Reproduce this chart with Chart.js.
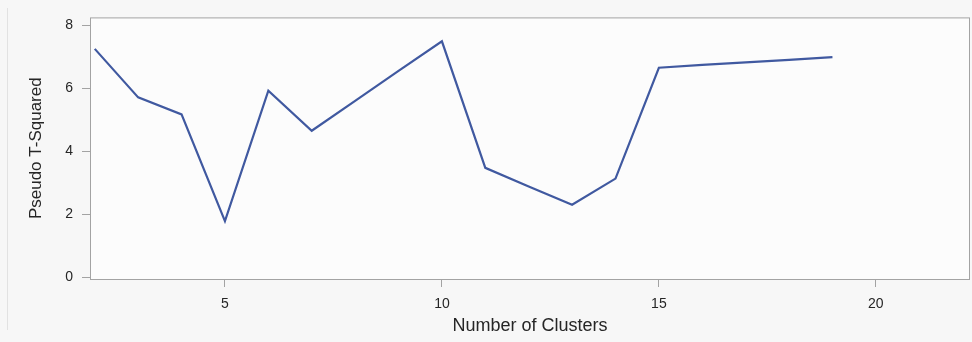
<!DOCTYPE html>
<html>
<head>
<meta charset="utf-8">
<title>Pseudo T-Squared by Number of Clusters</title>
<script src="https://cdn.jsdelivr.net/npm/chart.js@4"></script>
<style>
  html, body { margin: 0; padding: 0; background: #f7f7f7; }
  #wrap { position: relative; width: 972px; height: 342px; }
  #edge { position: absolute; left: 7px; top: 8px; height: 322px; border-left: 1px solid #e2e2e2; }
</style>
</head>
<body>
<div id="wrap">
  <div id="edge"></div>
  <canvas id="chart" width="972" height="342"></canvas>
</div>
<script>
// Pseudo T-squared statistic per cluster count
const clusters = [2, 3, 4, 5, 6, 7, 8, 9, 10, 11, 12, 13, 14, 15, 16, 17, 18, 19];
const pseudoT2 = [7.25, 5.71, 5.17, 1.78, 5.92, 4.65, 5.6, 6.55, 7.49, 3.47, 2.88, 2.30, 3.13, 6.65, 6.74, 6.82, 6.9, 6.99];

const xTicks = [5, 10, 15, 20];
const yTicks = [0, 2, 4, 6, 8];

const COLORS = {
  line: '#4059a0',
  frame: '#a3a3a3',
  text: '#262626',
  plotBg: '#fcfcfc',
};

const FONT = '"Liberation Sans", Arial, sans-serif';

// plot background + box around the chart area
const framePlugin = {
  id: 'frame',
  beforeDatasetsDraw(chart) {
    const { ctx, chartArea: a } = chart;
    ctx.save();
    ctx.fillStyle = COLORS.plotBg;
    ctx.fillRect(a.left, a.top, a.right - a.left, a.bottom - a.top);
    ctx.restore();
  },
  afterDatasetsDraw(chart) {
    const { ctx, chartArea: a } = chart;
    ctx.save();
    ctx.strokeStyle = COLORS.frame;
    ctx.lineWidth = 1;
    ctx.strokeRect(a.left + 0.5, a.top + 0.5, a.right - a.left - 1, a.bottom - a.top);
    ctx.restore();
  },
};

new Chart(document.getElementById('chart'), {
  type: 'scatter',
  data: {
    datasets: [{
      label: 'Pseudo T-Squared',
      data: clusters.map((c, i) => ({ x: c, y: pseudoT2[i] })),
      showLine: true,
      borderColor: COLORS.line,
      borderWidth: 2.2,
      pointRadius: 0,
      tension: 0,
    }],
  },
  options: {
    responsive: false,
    animation: false,
    layout: { padding: { top: 13, right: 2, left: 0, bottom: 0 } },
    plugins: { legend: { display: false }, tooltip: { enabled: false } },
    scales: {
      x: {
        type: 'linear',
        min: 1.89,
        max: 22.17,
        afterBuildTicks: (scale) => { scale.ticks = xTicks.map(v => ({ value: v })); },
        afterFit: (scale) => { scale.height = 63; },
        border: { display: false },
        grid: { drawOnChartArea: false, drawTicks: true, tickLength: 8, color: COLORS.frame },
        ticks: { autoSkip: false, maxRotation: 0, padding: 9, color: COLORS.text, font: { family: FONT, size: 14 } },
        title: {
          display: true,
          text: 'Number of Clusters',
          color: COLORS.text,
          font: { family: FONT, size: 18 },
          padding: { top: 0, bottom: 5 },
        },
      },
      y: {
        type: 'linear',
        min: -0.06,
        max: 8.25,
        afterBuildTicks: (scale) => { scale.ticks = yTicks.map(v => ({ value: v })); },
        afterFit: (scale) => { scale.width = 90; },
        border: { display: false },
        grid: { drawOnChartArea: false, drawTicks: true, tickLength: 8, color: COLORS.frame },
        ticks: { autoSkip: false, padding: 9, color: COLORS.text, font: { family: FONT, size: 14 } },
        title: {
          display: true,
          text: 'Pseudo T-Squared',
          color: COLORS.text,
          font: { family: FONT, size: 17 },
          padding: { top: 26, bottom: 0 },
        },
      },
    },
  },
  plugins: [framePlugin],
});
</script>
</body>
</html>
